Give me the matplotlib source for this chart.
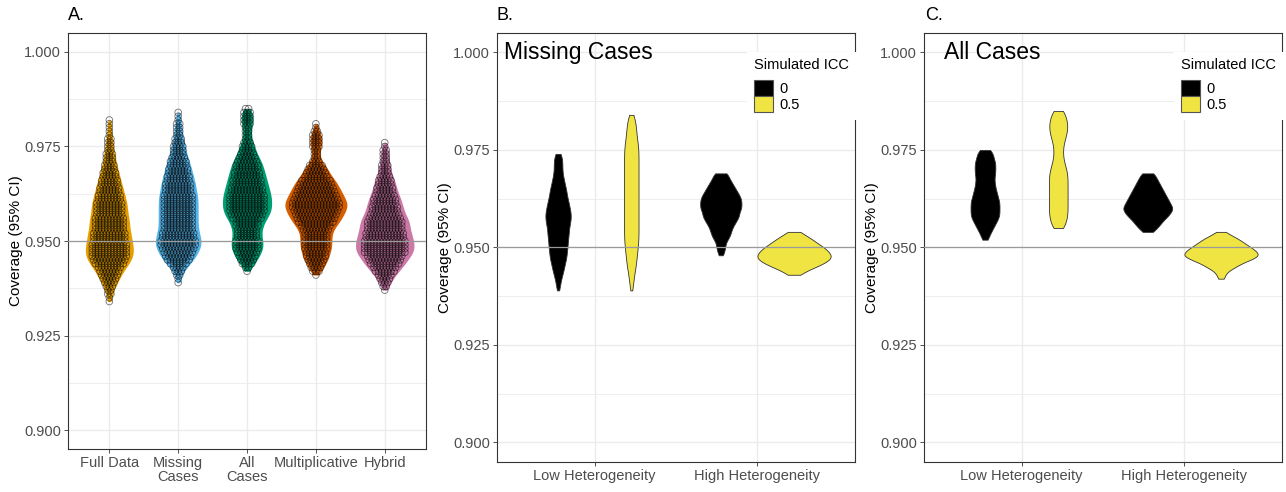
import numpy as np
import matplotlib
matplotlib.use('Agg')
import matplotlib.pyplot as plt
from matplotlib.patches import Patch, Rectangle

plt.rcParams['font.family'] = ['Liberation Sans', 'DejaVu Sans']

# Coverage is reported on a 0.001 grid; each list counts the simulation
# conditions found at successive coverage values starting from the lowest one.
methods = ['Full Data', 'Missing\nCases', 'All\nCases', 'Multiplicative', 'Hybrid']
method_colors = ['#E69F00', '#56B4E9', '#009E73', '#D55E00', '#CC79A7']
method_lowest = [0.934, 0.939, 0.942, 0.941, 0.937]

full_counts = [1, 1, 2, 2, 3, 4, 5, 6, 7, 8,
               10, 11, 12, 12, 12, 12, 11, 11, 11, 10,
               10, 10, 10, 9, 9, 9, 9, 8, 8, 7,
               7, 6, 6, 5, 5, 4, 4, 3, 3, 3,
               2, 2, 2, 2, 1, 1, 1, 1, 1]
missing_counts = [1, 1, 2, 3, 4, 6, 8, 9, 10, 11,
                  12, 12, 11, 11, 10, 10, 10, 10, 10, 10,
                  10, 10, 10, 10, 9, 9, 9, 8, 8, 7,
                  7, 6, 6, 5, 4, 4, 4, 3, 3, 2,
                  2, 2, 2, 1, 1, 1]
all_counts = [1, 2, 4, 5, 6, 7, 8, 8, 8, 7,
              7, 7, 8, 8, 10, 11, 12, 12, 12, 12,
              12, 11, 11, 10, 10, 9, 9, 8, 8, 7,
              6, 5, 4, 4, 3, 2, 2, 2, 2, 3,
              3, 3, 3, 2]
mult_counts = [1, 3, 4, 5, 6, 7, 7, 8, 8, 8,
               8, 8, 9, 10, 12, 13, 14, 15, 16, 16,
               15, 14, 13, 12, 11, 10, 8, 7, 6, 5,
               3, 2, 2, 2, 3, 3, 3, 3, 2, 1,
               1]
hybrid_counts = [1, 2, 3, 4, 5, 7, 8, 10, 11, 12,
                 14, 14, 14, 14, 13, 13, 12, 12, 12, 11,
                 10, 9, 9, 8, 8, 7, 6, 6, 5, 5,
                 4, 3, 3, 3, 2, 2, 2, 2, 1, 1]
method_counts = [full_counts, missing_counts, all_counts, mult_counts, hybrid_counts]

het_labels = ['Low Heterogeneity', 'High Heterogeneity']
icc_labels = ['0', '0.5']
icc_colors = ['black', '#F0E442']

# Missing cases: [low het ICC 0, low het ICC 0.5, high het ICC 0, high het ICC 0.5]
miss_lowest = [0.939, 0.939, 0.948, 0.943]
miss_low_icc0 = [1, 2, 2, 3, 4, 5, 6, 6, 8, 8,
                 8, 9, 9, 9, 10, 10, 10, 11, 12, 12,
                 12, 11, 10, 10, 8, 8, 8, 6, 6, 5,
                 4, 4, 4, 4, 4, 3]
miss_low_icc5 = [1, 1, 2, 2, 2, 3, 4, 4, 4, 5,
                 5, 5, 6, 6, 6, 6, 6, 6, 6, 6,
                 6, 6, 6, 6, 6, 6, 6, 6, 6, 6,
                 6, 6, 6, 6, 6, 6, 6, 6, 5, 5,
                 4, 4, 4, 4, 3, 2]
miss_high_icc0 = [2, 3, 4, 4, 6, 8, 9, 10, 12, 14,
                  16, 16, 18, 18, 18, 17, 15, 13, 11, 9,
                  7, 6]
miss_high_icc5 = [6, 12, 21, 29, 35, 36, 33, 29, 23, 18, 12, 6]
miss_groups = [miss_low_icc0, miss_low_icc5, miss_high_icc0, miss_high_icc5]

# All cases, same ordering
allc_lowest = [0.952, 0.955, 0.954, 0.942]
allc_low_icc0 = [3, 4, 6, 8, 10, 12, 14, 14, 14, 14,
                 14, 12, 12, 10, 10, 9, 9, 10, 10, 10,
                 10, 8, 8, 6]
allc_low_icc5 = [6, 6, 7, 8, 8, 8, 8, 8, 8, 8,
                 8, 8, 8, 8, 8, 7, 6, 5, 4, 4,
                 4, 4, 5, 6, 7, 8, 8, 8, 7, 6,
                 6]
allc_high_icc0 = [5, 9, 12, 15, 19, 22, 24, 22, 20, 18,
                  16, 14, 12, 10, 8, 6]
allc_high_icc5 = [3, 4, 7, 14, 20, 30, 37, 34, 29, 23, 18, 11, 4]
allc_groups = [allc_low_icc0, allc_low_icc5, allc_high_icc0, allc_high_icc5]


def expand(lowest, counts):
    levels = lowest + 0.001 * np.arange(len(counts))
    return np.repeat(levels, counts)


def nrd0(x):
    sd = x.std(ddof=1)
    iqr = np.subtract(*np.percentile(x, [75, 25]))
    lo = min(sd, iqr / 1.34) if iqr > 0 else sd
    return 0.9 * lo * len(x) ** -0.2


def density(x, adjust=0.5):
    bw = max(nrd0(x) * adjust, 0.0007)
    y = np.linspace(x.min(), x.max(), 512)
    d = np.exp(-0.5 * ((y[:, None] - x[None, :]) / bw) ** 2).sum(axis=1)
    return y, d / (len(x) * bw * np.sqrt(2 * np.pi))


def style_axes(ax, ncat, labels):
    ax.set_xlim(0.4, ncat + 0.6)
    ax.set_ylim(0.895, 1.005)
    ax.set_xticks(np.arange(1, ncat + 1))
    ax.set_xticklabels(labels, linespacing=1.05)
    ax.set_yticks([0.9, 0.925, 0.95, 0.975, 1.0])
    ax.set_yticklabels(['0.900', '0.925', '0.950', '0.975', '1.000'])
    ax.set_yticks([0.9125, 0.9375, 0.9625, 0.9875], minor=True)
    ax.grid(which='major', color='#EBEBEB', lw=1.0)
    ax.grid(which='minor', axis='y', color='#EBEBEB', lw=0.6)
    ax.set_axisbelow(True)
    ax.tick_params(which='major', length=3, width=0.6, color='#333333',
                   labelcolor='#4D4D4D', labelsize=10.5, pad=2)
    ax.tick_params(which='minor', length=0)
    for sp in ax.spines.values():
        sp.set_color('#333333')
        sp.set_linewidth(0.8)
    ax.axhline(0.95, color='#9A9A9A', lw=0.9, zorder=3)
    ax.set_ylabel('Coverage (95% CI)', fontsize=11, labelpad=1)


fig = plt.figure(figsize=(12.86, 4.92), dpi=100)
axA = fig.add_axes([0.0529, 0.0874, 0.2784, 0.8455])
axB = fig.add_axes([0.3865, 0.0610, 0.2784, 0.8720])
axC = fig.add_axes([0.7185, 0.0610, 0.2784, 0.8720])

# Panel A: violins with every condition shown as a point
samples = [expand(lo, c) for lo, c in zip(method_lowest, method_counts)]
dens = [density(s) for s in samples]
dmax = max(d.max() for _, d in dens)
for i, ((yy, d), col) in enumerate(zip(dens, method_colors)):
    x0 = i + 1
    hw = 0.45 * d / dmax
    axA.fill_betweenx(yy, x0 - hw, x0 + hw, color=col, lw=0, zorder=2)
    px, py = [], []
    for k, n in enumerate(method_counts[i]):
        off = (np.arange(n) - (n - 1) / 2) * 0.045
        px.extend(x0 + off)
        py.extend([method_lowest[i] + 0.001 * k] * n)
    axA.scatter(px, py, s=23, facecolors='none', edgecolors=(0, 0, 0, 0.55),
                linewidths=0.6, zorder=2.5)
style_axes(axA, 5, methods)


def het_panel(ax, lowest, groups, title):
    samples = [expand(lo, c) for lo, c in zip(lowest, groups)]
    dens = [density(s) for s in samples]
    dmax = max(d.max() for _, d in dens)
    for j, (yy, d) in enumerate(dens):
        het = j // 2
        icc = j % 2
        x0 = het + 1 + (-0.225 if icc == 0 else 0.225)
        hw = 0.225 * d / dmax
        ax.fill_betweenx(yy, x0 - hw, x0 + hw, facecolor=icc_colors[icc],
                         edgecolor='#333333', lw=0.6, zorder=2)
    style_axes(ax, 2, het_labels)
    ax.text(title[1], 1.0, title[0], fontsize=16.5, ha='left', va='center')
    # white legend background, reaching over the panel border
    ax.add_patch(Rectangle((0.698, 0.797), 0.322, 0.159, transform=ax.transAxes,
                           facecolor='white', edgecolor='none', clip_on=False,
                           zorder=9))
    handles = [Patch(facecolor=c, edgecolor='#555555', lw=0.8) for c in icc_colors]
    leg = ax.legend(handles, icc_labels, title='Simulated ICC', loc='upper right',
                    bbox_to_anchor=(1.0, 0.957), borderaxespad=0, frameon=False,
                    fontsize=10.5, title_fontsize=10.5, handlelength=1.3,
                    handleheight=1.3, handletextpad=0.45, labelspacing=0.0,
                    borderpad=0.45, alignment='left')
    leg._legend_box.sep = 6
    leg.set_zorder(10)


het_panel(axB, miss_lowest, miss_groups, ('Missing Cases', 0.44))
het_panel(axC, allc_lowest, allc_groups, ('All Cases', 0.52))

for lab, xp in [('A.', 68), ('B.', 497), ('C.', 925)]:
    fig.text(xp / 1286, 1 - 16 / 492, lab, fontsize=13, ha='left', va='center')

fig.savefig('out.png', dpi=100)
